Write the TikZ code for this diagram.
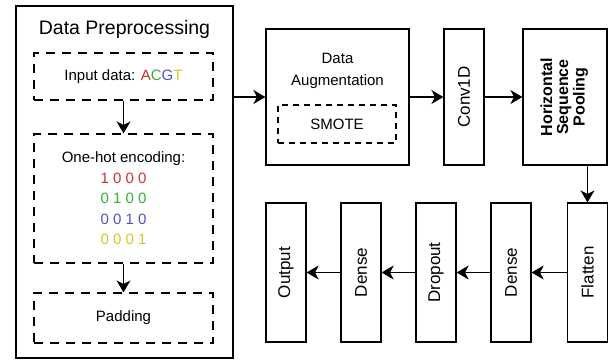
\documentclass[tikz,border=0pt]{standalone}
\usepackage{fontspec}
\setmainfont{Liberation Sans}
\usetikzlibrary{arrows.meta}
\definecolor{nucA}{HTML}{D03030}
\definecolor{nucC}{HTML}{30B030}
\definecolor{nucG}{HTML}{5050C8}
\definecolor{nucT}{HTML}{CCCC22}
\begin{document}
\begin{tikzpicture}[x=1pt, y=-1pt, line width=1.2pt,
  box/.style={draw, rectangle, inner sep=0pt},
  dbox/.style={box, dash pattern=on 9pt off 7pt},
  layer/.style={box, minimum width=40pt, font=\fontsize{17}{20}\selectfont},
  flow/.style={-{Stealth[length=12pt, width=14pt, inset=3.5pt]}},
  txt/.style={font=\fontsize{15}{20.5}\selectfont, align=center, inner sep=0pt}]
  \useasboundingbox (0, 0) rectangle (610, 360);
  % preprocessing column
  \node[box, minimum width=217pt, minimum height=352pt] (prep) at (124.5, 182) {};
  \node[inner sep=0pt, font=\fontsize{19.5}{22}\selectfont] (preptitle) at (124.5, 29) {Data Preprocessing};
  \node[dbox, txt, minimum width=179pt, minimum height=47pt] (input) at (123.5, 76.5)
    {Input data: \textcolor{nucA}{A}\textcolor{nucC}{C}\textcolor{nucG}{G}\textcolor{nucT}{T}};
  \node[dbox, txt, minimum width=179pt, minimum height=129pt] (onehot) at (123.5, 198.5)
    {One-hot encoding:\\ \textcolor{nucA}{1 0 0 0}\\ \textcolor{nucC}{0 1 0 0}\\
     \textcolor{nucG}{0 0 1 0}\\ \textcolor{nucT}{0 0 0 1}};
  \node[dbox, txt, minimum width=179pt, minimum height=50pt] (pad) at (123.5, 318) {Padding};
  \draw[flow] (input) -- (onehot);
  \draw[flow] (onehot) -- (pad);
  % upper row
  \node[box, minimum width=143pt, minimum height=136pt] (aug) at (337.5, 97) {};
  \node[txt, font=\fontsize{15}{22}\selectfont] (augtxt) at (337.5, 71) {Data\\Augmentation};
  \node[box, txt, dash pattern=on 6pt off 5pt, minimum width=118pt, minimum height=38pt] (smote) at (337, 124) {SMOTE};
  \node[layer, minimum height=136pt] (conv) at (464, 97) {\rotatebox{90}{Conv1D}};
  \node[box, minimum width=84pt, minimum height=136pt, font=\fontsize{16}{16}\selectfont\bfseries] (hsp) at (565, 97)
    {\rotatebox{90}{\begin{tabular}{@{}c@{}}Horizontal\\Sequence\\Pooling\end{tabular}}};
  % lower row
  \node[layer, minimum height=139pt] (flat) at (587.5, 272.5) {\rotatebox{90}{Flatten}};
  \node[layer, minimum height=139pt] (dense1) at (511, 272.5) {\rotatebox{90}{Dense}};
  \node[layer, minimum height=139pt] (drop) at (436, 272.5) {\rotatebox{90}{Dropout}};
  \node[layer, minimum height=139pt] (dense2) at (361, 272.5) {\rotatebox{90}{Dense}};
  \node[layer, minimum height=139pt] (out) at (286, 272.5) {\rotatebox{90}{Output}};
  % connectors
  \draw[flow] (prep.east |- aug.west) -- (aug.west);
  \draw[flow] (aug) -- (conv);
  \draw[flow] (conv) -- (hsp);
  \draw[flow] (flat.north |- hsp.south) -- (flat.north);
  \draw[flow] (flat) -- (dense1);
  \draw[flow] (dense1) -- (drop);
  \draw[flow] (drop) -- (dense2);
  \draw[flow] (dense2) -- (out);
\end{tikzpicture}
\end{document}
